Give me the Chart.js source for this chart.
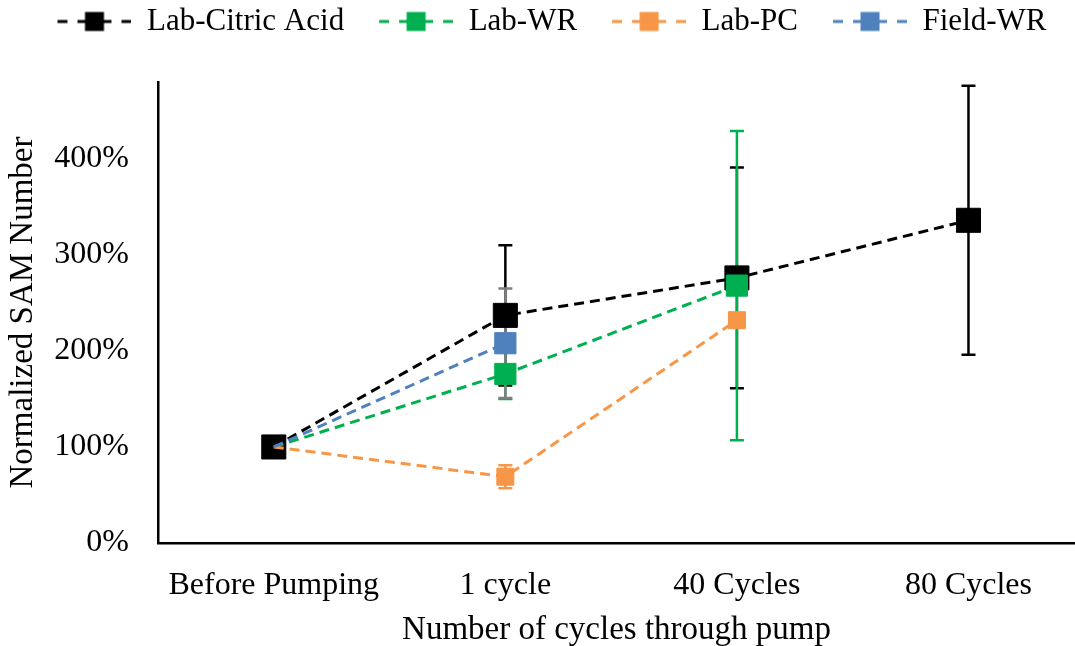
<!DOCTYPE html>
<html>
<head>
<meta charset="utf-8">
<title>Normalized SAM Number</title>
<script src="https://cdn.jsdelivr.net/npm/chart.js@4/dist/chart.umd.min.js"></script>
<style>
  html, body { margin: 0; padding: 0; background: #fff; }
  #wrap { width: 1075px; height: 646px; }
</style>
</head>
<body>
<div id="wrap"><canvas id="samChart"></canvas></div>
<script>
// categories on the x axis
const categories = ['Before Pumping', '1 cycle', '40 Cycles', '80 Cycles'];

// normalized SAM number (%) and the +/- error for each series
const labCitric = [100, 237, 276, 336];
const labCitricErr = [0, 73, 115, 140];
const labWR = [100, 176, 268];
const labWRErr = [0, 26, 161];
const labPC = [100, 69, 232];
const labPCErr = [0, 12, 0];
const fieldWR = [100, 208];
const fieldWRErr = [0, 57];

const yTicks = [0, 100, 200, 300, 400];

const FONT = '"Liberation Serif", "Times New Roman", serif';

// dashed line with a square in the middle, used as the legend symbol
function legendSymbol(color) {
    const lead = 29, w = 74, h = 24;
    const c = document.createElement('canvas');
    c.width = lead + w;
    c.height = h;
    const g = c.getContext('2d');
    g.strokeStyle = color;
    g.lineWidth = 3;
    g.beginPath();
    g.moveTo(lead, h / 2); g.lineTo(lead + 10, h / 2);
    g.moveTo(lead + 20, h / 2); g.lineTo(lead + 54, h / 2);
    g.moveTo(lead + 64, h / 2); g.lineTo(lead + 74, h / 2);
    g.stroke();
    g.fillStyle = color;
    g.fillRect(lead + 37 - 9.5, h / 2 - 9.5, 19, 19);
    return c;
}

function series(label, values, errors, color, errColor, size, hideFirst) {
    return {
        label: label,
        data: values.map((v, i) => ({ x: i, y: v })),
        errors: errors,
        errorColor: errColor,
        borderColor: color,
        backgroundColor: color,
        borderWidth: 3,
        borderDash: [10, 6],
        pointStyle: 'rect',
        pointRadius: values.map((v, i) => (hideFirst && i === 0 ? 0 : size)),
        pointHoverRadius: size,
        pointBorderWidth: 1,
        pointBorderColor: color,
        pointBackgroundColor: color,
        tension: 0,
        symbol: legendSymbol(color)
    };
}

// vertical error bars with caps, drawn under the lines and markers
const errorBars = {
    id: 'errorBars',
    beforeDatasetsDraw(chart) {
        const ctx = chart.ctx;
        const y = chart.scales.y;
        chart.data.datasets.forEach((ds, di) => {
            const meta = chart.getDatasetMeta(di);
            ctx.save();
            ctx.strokeStyle = ds.errorColor;
            ctx.lineWidth = 2.5;
            ds.data.forEach((p, i) => {
                const e = ds.errors[i];
                if (!e) return;
                const px = meta.data[i].x;
                const top = y.getPixelForValue(p.y + e);
                const bot = y.getPixelForValue(p.y - e);
                ctx.beginPath();
                ctx.moveTo(px, top); ctx.lineTo(px, bot);
                ctx.moveTo(px - 7, top); ctx.lineTo(px + 7, top);
                ctx.moveTo(px - 7, bot); ctx.lineTo(px + 7, bot);
                ctx.stroke();
            });
            ctx.restore();
        });
    }
};

// fixed legend band height so the plot starts below it
const legendBand = {
    id: 'legendBand',
    afterInit(chart) {
        const fit = chart.legend.fit;
        chart.legend.fit = function () {
            fit.call(this);
            this.height = 82;
        };
    }
};

const datasets = [
    series('Lab-Citric Acid', labCitric, labCitricErr, '#000000', '#000000', 17, false),
    series('Lab-WR', labWR, labWRErr, '#00b050', '#00b050', 15, true),
    series('Lab-PC', labPC, labPCErr, '#f79646', '#f79646', 12, true),
    series('Field-WR', fieldWR, fieldWRErr, '#4f81bd', '#7f7f7f', 15, true)
];
// later series sit on top of earlier ones
datasets.forEach((ds, i) => { ds.order = datasets.length - i; });

new Chart(document.getElementById('samChart'), {
    type: 'line',
    data: { datasets: datasets },
    plugins: [errorBars, legendBand],
    options: {
        responsive: true,
        maintainAspectRatio: false,
        animation: false,
        layout: { padding: 0, autoPadding: false },
        plugins: {
            tooltip: { enabled: false },
            legend: {
                position: 'top',
                labels: {
                    font: { family: FONT, size: 31 },
                    color: '#000',
                    padding: 6,
                    usePointStyle: true,
                    pointStyleWidth: 103,
                    boxHeight: 24,
                    generateLabels: (chart) => chart.data.datasets.map((ds, i) => ({
                        text: ds.label,
                        pointStyle: ds.symbol,
                        fillStyle: ds.borderColor,
                        strokeStyle: ds.borderColor,
                        lineWidth: 0,
                        hidden: false,
                        datasetIndex: i
                    }))
                }
            }
        },
        scales: {
            x: {
                type: 'linear',
                min: -0.5,
                max: 3.46,
                grid: { display: false },
                border: { display: true, color: '#000', width: 2.5 },
                afterBuildTicks: (s) => { s.ticks = categories.map((c, i) => ({ value: i })); },
                afterFit: (s) => { s.height = 103; },
                ticks: {
                    font: { family: FONT, size: 32 },
                    color: '#000',
                    padding: 15,
                    maxRotation: 0,
                    autoSkip: false,
                    callback: (v) => categories[v]
                },
                title: {
                    display: true,
                    text: 'Number of cycles through pump',
                    font: { family: FONT, size: 33 },
                    color: '#000',
                    padding: { top: 0, bottom: -4 }
                }
            },
            y: {
                min: 0,
                max: 480,
                grid: { display: false },
                border: { display: true, color: '#000', width: 2.5 },
                afterBuildTicks: (s) => { s.ticks = yTicks.map(v => ({ value: v })); },
                afterFit: (s) => { s.width = 158; },
                ticks: {
                    font: { family: FONT, size: 32 },
                    color: '#000',
                    padding: 21,
                    callback: (v) => v + '%'
                },
                title: {
                    display: true,
                    text: 'Normalized SAM Number',
                    font: { family: FONT, size: 33 },
                    color: '#000',
                    padding: { top: 4, bottom: 0 }
                }
            }
        }
    }
});
</script>
</body>
</html>
